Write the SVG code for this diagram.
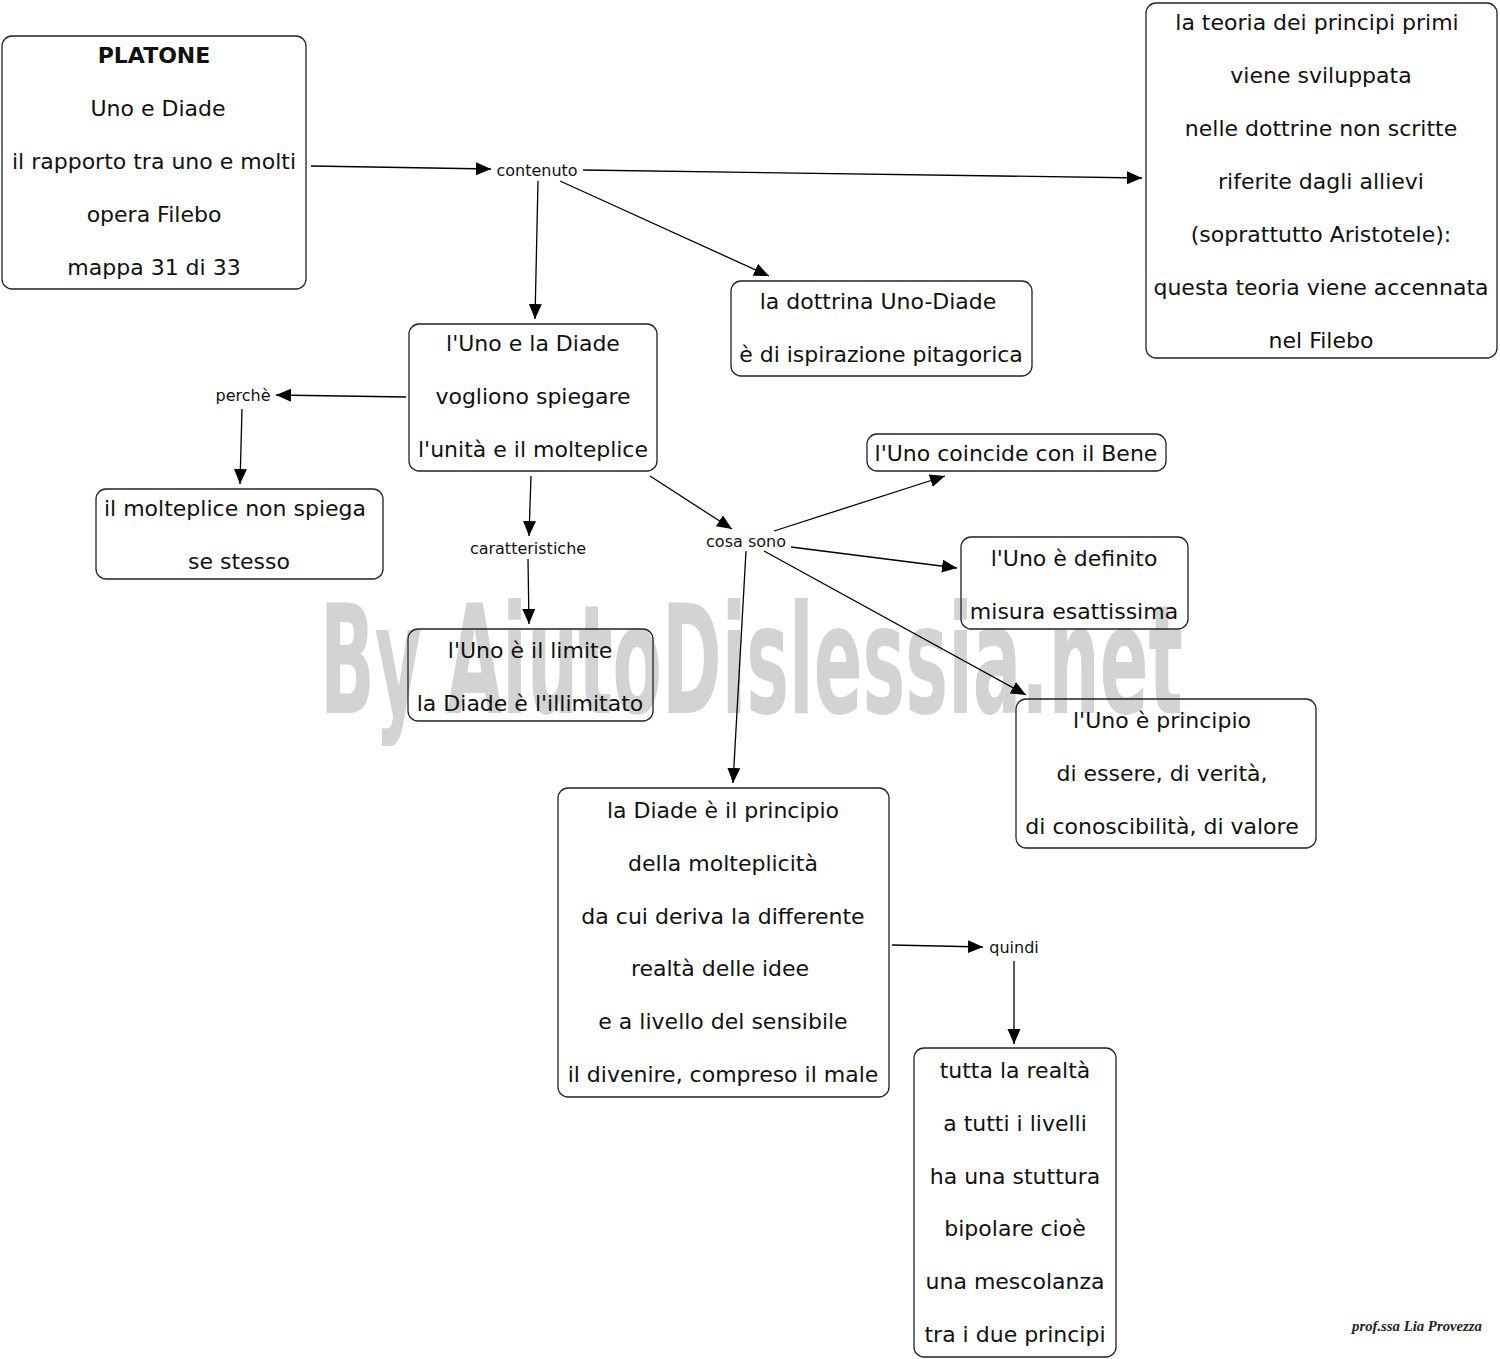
<svg xmlns="http://www.w3.org/2000/svg" width="1500" height="1359" viewBox="0 0 1500 1359">
<defs>
<marker id="ah" markerUnits="userSpaceOnUse" markerWidth="16" markerHeight="14" refX="15" refY="6.5" orient="auto">
<path d="M0,0 L15,6.5 L0,13 Z" fill="#000"/>
</marker>
<style>
.box{fill:none;stroke:#222;stroke-width:1.3}
.t{font-family:"DejaVu Sans",Verdana,sans-serif;font-size:22px;fill:#111;text-anchor:middle}
.b{font-weight:bold}
.l{font-family:"DejaVu Sans",Verdana,sans-serif;font-size:16px;fill:#111;text-anchor:middle}
.c{stroke:#000;stroke-width:1.3;fill:none;marker-end:url(#ah)}
.wm{font-family:"DejaVu Sans Condensed","DejaVu Sans",sans-serif;font-weight:bold;font-size:152px;fill:#d3d3d3}
.sig{font-family:"Liberation Serif",serif;font-style:italic;font-weight:bold;font-size:14px;fill:#222}
</style>
</defs>
<rect width="1500" height="1359" fill="#fff"/>
<text class="wm" x="320" y="713" textLength="863" lengthAdjust="spacingAndGlyphs">By AiutoDislessia.net</text>

<g id="connectors">
<line class="c" x1="311" y1="166" x2="491" y2="169"/>
<line class="c" x1="583" y1="170" x2="1142" y2="178"/>
<line class="c" x1="538" y1="181" x2="535" y2="319"/>
<line class="c" x1="560" y1="181" x2="769" y2="276"/>
<line class="c" x1="406" y1="397" x2="276" y2="395"/>
<line class="c" x1="242" y1="409" x2="240" y2="484"/>
<line class="c" x1="531" y1="476" x2="529" y2="536"/>
<line class="c" x1="528" y1="559" x2="529" y2="624"/>
<line class="c" x1="650" y1="476" x2="732" y2="529"/>
<line class="c" x1="774" y1="531" x2="945" y2="476"/>
<line class="c" x1="791" y1="547" x2="957" y2="568"/>
<line class="c" x1="764" y1="551" x2="1026" y2="695"/>
<line class="c" x1="746" y1="551" x2="733" y2="783"/>
<line class="c" x1="892" y1="945" x2="983" y2="947"/>
<line class="c" x1="1014" y1="961" x2="1014" y2="1044"/>
</g>

<g id="labels">
<text class="l" x="537" y="176">contenuto</text>
<text class="l" x="243" y="401">perchè</text>
<text class="l" x="528" y="554">caratteristiche</text>
<text class="l" x="746" y="547">cosa sono</text>
<text class="l" x="1014" y="953">quindi</text>
</g>

<g id="n-platone">
<rect class="box" x="2" y="36" width="304" height="253" rx="10"/>
<text class="t b" x="154" y="63">PLATONE</text>
<text class="t" x="158" y="116">Uno e Diade</text>
<text class="t" x="154" y="169">il rapporto tra uno e molti</text>
<text class="t" x="154" y="222">opera Filebo</text>
<text class="t" x="154" y="275">mappa 31 di 33</text>
</g>

<g id="n-teoria">
<rect class="box" x="1146" y="3" width="351" height="355" rx="10"/>
<text class="t" x="1317" y="30">la teoria dei principi primi</text>
<text class="t" x="1321" y="83">viene sviluppata</text>
<text class="t" x="1321" y="136">nelle dottrine non scritte</text>
<text class="t" x="1321" y="189">riferite dagli allievi</text>
<text class="t" x="1321" y="242">(soprattutto Aristotele):</text>
<text class="t" x="1321" y="295">questa teoria viene accennata</text>
<text class="t" x="1321" y="348">nel Filebo</text>
</g>

<g id="n-dottrina">
<rect class="box" x="731" y="281" width="301" height="95" rx="10"/>
<text class="t" x="878" y="309">la dottrina Uno-Diade</text>
<text class="t" x="881" y="362">è di ispirazione pitagorica</text>
</g>

<g id="n-uno-diade">
<rect class="box" x="409" y="324" width="248" height="147" rx="10"/>
<text class="t" x="533" y="351">l'Uno e la Diade</text>
<text class="t" x="533" y="404">vogliono spiegare</text>
<text class="t" x="533" y="457">l'unità e il molteplice</text>
</g>

<g id="n-molteplice">
<rect class="box" x="96" y="489" width="287" height="90" rx="10"/>
<text class="t" x="235" y="516">il molteplice non spiega</text>
<text class="t" x="239" y="569">se stesso</text>
</g>

<g id="n-bene">
<rect class="box" x="867" y="434" width="299" height="37" rx="10"/>
<text class="t" x="1016" y="461">l'Uno coincide con il Bene</text>
</g>

<g id="n-definito">
<rect class="box" x="961" y="537" width="227" height="92" rx="10"/>
<text class="t" x="1074" y="566">l'Uno è definito</text>
<text class="t" x="1074" y="619">misura esattissima</text>
</g>

<g id="n-limite">
<rect class="box" x="408" y="629" width="245" height="92" rx="10"/>
<text class="t" x="530" y="658">l'Uno è il limite</text>
<text class="t" x="530" y="711">la Diade è l'illimitato</text>
</g>

<g id="n-principio">
<rect class="box" x="1016" y="699" width="300" height="149" rx="10"/>
<text class="t" x="1162" y="728">l'Uno è principio</text>
<text class="t" x="1162" y="781">di essere, di verità,</text>
<text class="t" x="1162" y="834">di conoscibilità, di valore</text>
</g>

<g id="n-diade">
<rect class="box" x="558" y="788" width="331" height="309" rx="10"/>
<text class="t" x="723" y="818">la Diade è il principio</text>
<text class="t" x="723" y="871">della molteplicità</text>
<text class="t" x="723" y="924">da cui deriva la differente</text>
<text class="t" x="720" y="976">realtà delle idee</text>
<text class="t" x="723" y="1029">e a livello del sensibile</text>
<text class="t" x="723" y="1082">il divenire, compreso il male</text>
</g>

<g id="n-realta">
<rect class="box" x="914" y="1048" width="202" height="309" rx="10"/>
<text class="t" x="1015" y="1078">tutta la realtà</text>
<text class="t" x="1015" y="1131">a tutti i livelli</text>
<text class="t" x="1015" y="1184">ha una stuttura</text>
<text class="t" x="1015" y="1236">bipolare cioè</text>
<text class="t" x="1015" y="1289">una mescolanza</text>
<text class="t" x="1015" y="1342">tra i due principi</text>
</g>

<text class="sig" x="1352" y="1331" textLength="130" lengthAdjust="spacingAndGlyphs">prof.ssa Lia Provezza</text>
</svg>
